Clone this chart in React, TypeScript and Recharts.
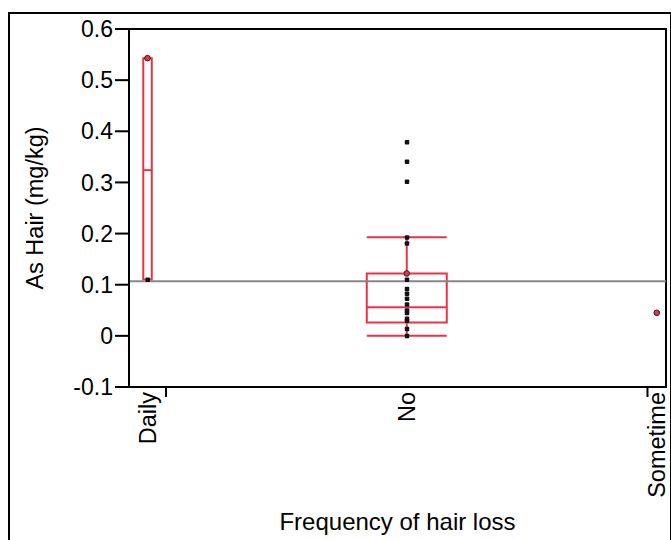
import {
  ComposedChart,
  XAxis,
  YAxis,
  Scatter,
  ReferenceArea,
  ReferenceLine,
} from 'recharts'

const categories = ['Daily', 'No', 'Sometime']
const groupCounts = [2, 26, 1]

// box statistics per category (null = no box)
const whiskerLow = [0.11, 0.0, null]
const q1Values = [0.11, 0.026, null]
const medians = [0.324, 0.056, null]
const q3Values = [0.543, 0.122, null]
const whiskerHigh = [0.543, 0.193, null]

const dailyValues = [0.543, 0.11]
const noValues = [
  0.379, 0.341, 0.302, 0.193, 0.181, 0.122, 0.11, 0.092, 0.083, 0.073, 0.062,
  0.05, 0.045, 0.034, 0.03, 0.014, 0.0,
]
const sometimeValues = [0.045]
const highlightedValues = [[0.543], [0.122], [0.045]]

const grandMean = 0.107
const yTicks = [-0.1, 0, 0.1, 0.2, 0.3, 0.4, 0.5, 0.6]

const RED = '#e8334a'
const FONT = '"Liberation Sans", Arial, sans-serif'
// box half widths in x units
const boxHalfWidth = [0.23, 2.16, 0]

const total = groupCounts.reduce((s, n) => s + n, 0)
const starts = groupCounts.map((_, i) =>
  groupCounts.slice(0, i).reduce((s, n) => s + n, 0)
)
const centers = starts.map((s, i) => s + groupCounts[i] / 2)
const boundaries = starts.slice(1)

const allValues = [dailyValues, noValues, sometimeValues]
const pointData = allValues.flatMap((vals, i) =>
  vals.map((v) => ({
    x: centers[i],
    y: v,
    red: highlightedValues[i].includes(v),
  }))
)

const xTicks = [...centers, ...boundaries].sort((a, b) => a - b)

function XTick(props: any) {
  const { x, y, payload } = props
  const v = payload.value
  if (boundaries.includes(v)) {
    return <line x1={x} x2={x} y1={y} y2={y + 10} stroke="#000" strokeWidth={2} />
  }
  const label = categories[centers.indexOf(v)]
  return (
    <text
      x={x}
      y={y + 5}
      dy="0.36em"
      transform={`rotate(-90, ${x}, ${y + 5})`}
      textAnchor="end"
      fontSize={23.5}
      fontFamily={FONT}
      fill="#000"
    >
      {label}
    </text>
  )
}

function Dot(props: any) {
  const { cx, cy, payload } = props
  if (payload.red) {
    return <circle cx={cx} cy={cy} r={2.8} fill={RED} stroke="#222" strokeWidth={1} />
  }
  return <rect x={cx - 2} y={cy - 2} width={4.5} height={4.5} rx={1} fill="#111" />
}

export default function App() {
  return (
    <div
      style={{
        position: 'absolute',
        left: 0,
        top: 0,
        width: 671,
        height: 540,
        overflow: 'hidden',
        background: '#fff',
      }}
    >
      <div
        style={{
          position: 'absolute',
          left: 8,
          top: 12,
          width: 660,
          height: 600,
          border: '2px solid #000',
        }}
      />
      <div style={{ position: 'absolute', left: 0, top: 0 }}>
        <ComposedChart
          width={671}
          height={540}
          margin={{ top: 29, right: 5, left: 10, bottom: 3 }}
        >
          <XAxis
            type="number"
            dataKey="x"
            domain={[0, total]}
            ticks={xTicks}
            interval={0}
            tick={<XTick />}
            tickLine={false}
            tickSize={0}
            tickMargin={0}
            height={150}
            axisLine={{ stroke: '#000', strokeWidth: 2 }}
            allowDataOverflow
            label={{
              value: 'Frequency of hair loss',
              position: 'insideBottom',
              offset: 7,
              style: { fontSize: 24, fontFamily: FONT, fill: '#000' },
            }}
          />
          <YAxis
            type="number"
            dataKey="y"
            domain={[-0.1, 0.6]}
            ticks={yTicks}
            interval={0}
            width={119}
            tickSize={14}
            tickMargin={2}
            tickFormatter={(v: number) => (v === 0 ? '0' : v.toFixed(1))}
            tick={{ fontSize: 23, fontFamily: FONT, fill: '#000' }}
            tickLine={{ stroke: '#000', strokeWidth: 2 }}
            axisLine={{ stroke: '#000', strokeWidth: 2 }}
            allowDataOverflow
            label={{
              value: 'As Hair (mg/kg)',
              angle: -90,
              position: 'insideLeft',
              offset: 25,
              style: {
                textAnchor: 'middle',
                fontSize: 23.5,
                fontFamily: FONT,
                fill: '#000',
              },
            }}
          />
          <ReferenceArea
            x1={0}
            x2={total}
            y1={-0.1}
            y2={0.6}
            fill="none"
            stroke="#000"
            strokeWidth={2}
          />
          <ReferenceLine y={grandMean} stroke="#888" strokeWidth={2} />
          {categories.map((c, i) => {
            const lo = whiskerLow[i]
            const hi = whiskerHigh[i]
            const q1 = q1Values[i]
            const q3 = q3Values[i]
            const med = medians[i]
            if (lo == null || hi == null || q1 == null || q3 == null || med == null)
              return null
            const left = centers[i] - boxHalfWidth[i]
            const right = centers[i] + boxHalfWidth[i]
            return [
              <ReferenceArea
                key={`box-${c}`}
                x1={left}
                x2={right}
                y1={q1}
                y2={q3}
                fill="none"
                stroke={RED}
                strokeWidth={2}
              />,
              <ReferenceLine
                key={`med-${c}`}
                segment={[
                  { x: left, y: med },
                  { x: right, y: med },
                ]}
                stroke={RED}
                strokeWidth={2}
              />,
              hi > q3 && (
                <ReferenceLine
                  key={`wu-${c}`}
                  segment={[
                    { x: centers[i], y: q3 },
                    { x: centers[i], y: hi },
                  ]}
                  stroke={RED}
                  strokeWidth={2}
                />
              ),
              hi > q3 && (
                <ReferenceLine
                  key={`cu-${c}`}
                  segment={[
                    { x: left, y: hi },
                    { x: right, y: hi },
                  ]}
                  stroke={RED}
                  strokeWidth={2}
                />
              ),
              lo < q1 && (
                <ReferenceLine
                  key={`wl-${c}`}
                  segment={[
                    { x: centers[i], y: lo },
                    { x: centers[i], y: q1 },
                  ]}
                  stroke={RED}
                  strokeWidth={2}
                />
              ),
              lo < q1 && (
                <ReferenceLine
                  key={`cl-${c}`}
                  segment={[
                    { x: left, y: lo },
                    { x: right, y: lo },
                  ]}
                  stroke={RED}
                  strokeWidth={2}
                />
              ),
            ]
          })}
          <Scatter data={pointData} shape={<Dot />} isAnimationActive={false} />
        </ComposedChart>
      </div>
    </div>
  )
}
